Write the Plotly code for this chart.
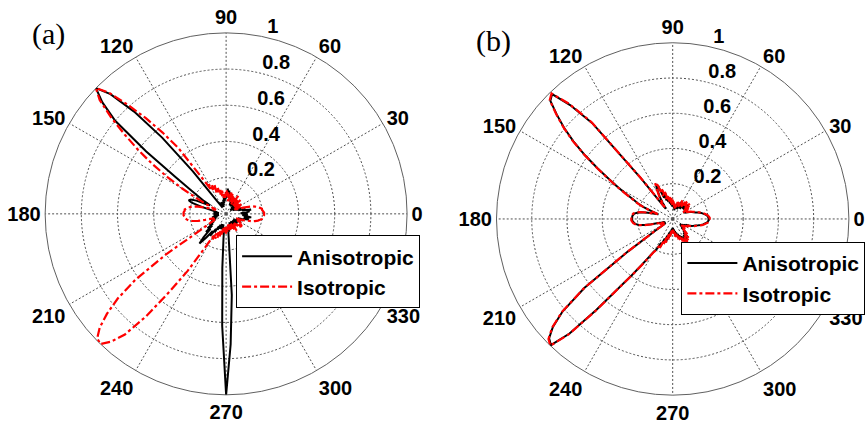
import plotly.graph_objects as go

# Angle grid (degrees) shared by every pattern, 2-degree sampling
theta_deg = list(range(0, 360, 2))

# Normalised far-field patterns, panel (a)
aniso_a = [
    0.10, 0.08, 0.11, 0.13, 0.12, 0.14, 0.09, 0.11, 0.07, 0.09,   # 0-18
    0.06, 0.08, 0.05, 0.07, 0.04, 0.06, 0.05, 0.08, 0.04, 0.06,   # 20-38
    0.03, 0.05, 0.07, 0.04, 0.06, 0.05, 0.08, 0.06, 0.09, 0.05,   # 40-58
    0.07, 0.10, 0.06, 0.08, 0.05, 0.09, 0.07, 0.11, 0.08, 0.12,   # 60-78
    0.09, 0.13, 0.10, 0.14, 0.09, 0.12, 0.08, 0.11, 0.07, 0.10,   # 80-98
    0.06, 0.08, 0.05, 0.07, 0.04, 0.06, 0.05, 0.07, 0.05, 0.06,   # 100-118
    0.04, 0.05, 0.07, 0.10, 0.30, 0.55, 0.76, 0.92, 1.00, 0.92,   # 120-138
    0.80, 0.56, 0.35, 0.24, 0.18, 0.14, 0.10, 0.12, 0.18, 0.21,   # 140-158
    0.22, 0.20, 0.14, 0.08, 0.06, 0.05, 0.07, 0.04, 0.06, 0.05,   # 160-178
    0.07, 0.04, 0.06, 0.05, 0.07, 0.04, 0.06, 0.08, 0.05, 0.07,   # 180-198
    0.06, 0.09, 0.06, 0.08, 0.07, 0.10, 0.08, 0.11, 0.09, 0.13,   # 200-218
    0.10, 0.15, 0.12, 0.18, 0.22, 0.17, 0.12, 0.15, 0.10, 0.12,   # 220-238
    0.08, 0.10, 0.07, 0.09, 0.06, 0.08, 0.07, 0.09, 0.06, 0.08,   # 240-258
    0.10, 0.08, 0.14, 0.30, 0.62, 1.00, 0.72, 0.45, 0.14, 0.08,   # 260-278
    0.10, 0.07, 0.09, 0.06, 0.08, 0.05, 0.07, 0.06, 0.08, 0.05,   # 280-298
    0.07, 0.06, 0.08, 0.05, 0.07, 0.06, 0.08, 0.05, 0.07, 0.06,   # 300-318
    0.08, 0.05, 0.07, 0.06, 0.08, 0.07, 0.09, 0.06, 0.08, 0.10,   # 320-338
    0.07, 0.09, 0.11, 0.13, 0.10, 0.12, 0.14, 0.11, 0.09, 0.12,   # 340-358
]
iso_a = [
    0.21, 0.21, 0.205, 0.20, 0.20, 0.19, 0.18, 0.165, 0.15, 0.12,  # 0-18
    0.10, 0.08, 0.06, 0.09, 0.05, 0.07, 0.10, 0.06, 0.08, 0.05,    # 20-38
    0.09, 0.06, 0.11, 0.07, 0.09, 0.06, 0.10, 0.08, 0.12, 0.07,    # 40-58
    0.09, 0.06, 0.10, 0.08, 0.11, 0.07, 0.12, 0.09, 0.13, 0.08,    # 60-78
    0.11, 0.07, 0.12, 0.09, 0.13, 0.10, 0.12, 0.08, 0.11, 0.09,    # 80-98
    0.13, 0.10, 0.14, 0.11, 0.15, 0.12, 0.17, 0.13, 0.18, 0.15,    # 100-118
    0.19, 0.16, 0.25, 0.45, 0.57, 0.69, 0.81, 0.93, 1.00, 0.94,    # 120-138
    0.83, 0.71, 0.60, 0.49, 0.38, 0.28, 0.19, 0.12, 0.08, 0.06,    # 140-158
    0.07, 0.10, 0.13, 0.17, 0.19, 0.21, 0.22, 0.23, 0.23, 0.235,   # 160-178
    0.235, 0.235, 0.23, 0.23, 0.22, 0.21, 0.19, 0.16, 0.12, 0.09,  # 180-198
    0.07, 0.08, 0.06, 0.09, 0.07, 0.10, 0.15, 0.40, 0.62, 0.76,    # 200-218
    0.86, 0.94, 0.99, 1.00, 0.95, 0.87, 0.72, 0.53, 0.38, 0.22,    # 220-238
    0.14, 0.16, 0.12, 0.15, 0.11, 0.14, 0.10, 0.13, 0.09, 0.12,    # 240-258
    0.08, 0.11, 0.07, 0.10, 0.08, 0.11, 0.07, 0.10, 0.08, 0.09,    # 260-278
    0.06, 0.09, 0.07, 0.10, 0.06, 0.08, 0.07, 0.09, 0.06, 0.10,    # 280-298
    0.08, 0.11, 0.07, 0.09, 0.06, 0.08, 0.07, 0.10, 0.08, 0.11,    # 300-318
    0.09, 0.12, 0.10, 0.11, 0.09, 0.07, 0.10, 0.08, 0.06, 0.08,    # 320-338
    0.10, 0.12, 0.15, 0.165, 0.18, 0.19, 0.20, 0.20, 0.205, 0.21,  # 340-358
]

# Normalised far-field patterns, panel (b)
aniso_b = [
    0.205, 0.205, 0.20, 0.195, 0.185, 0.175, 0.165, 0.15, 0.135, 0.125,  # 0-18
    0.115, 0.105, 0.095, 0.085, 0.075, 0.09, 0.07, 0.10, 0.08, 0.11,     # 20-38
    0.08, 0.12, 0.09, 0.11, 0.08, 0.12, 0.09, 0.11, 0.07, 0.10,          # 40-58
    0.08, 0.11, 0.07, 0.09, 0.06, 0.10, 0.07, 0.09, 0.06, 0.08,          # 60-78
    0.05, 0.08, 0.06, 0.09, 0.07, 0.10, 0.07, 0.11, 0.08, 0.12,          # 80-98
    0.09, 0.13, 0.10, 0.15, 0.11, 0.17, 0.13, 0.20, 0.22, 0.18,          # 100-118
    0.15, 0.11, 0.07, 0.11, 0.29, 0.71, 0.87, 0.985, 0.965, 0.885,       # 120-138
    0.805, 0.715, 0.615, 0.515, 0.425, 0.355, 0.295, 0.245, 0.215, 0.175, # 140-158
    0.125, 0.085, 0.105, 0.145, 0.185, 0.205, 0.22, 0.225, 0.23, 0.23,   # 160-178
    0.23, 0.23, 0.225, 0.22, 0.21, 0.195, 0.165, 0.125, 0.085, 0.065,    # 180-198
    0.05, 0.07, 0.045, 0.06, 0.045, 0.055, 0.055, 0.115, 0.315, 0.635,   # 200-218
    0.815, 0.915, 0.975, 0.995, 0.875, 0.675, 0.495, 0.395, 0.315, 0.255, # 220-238
    0.215, 0.195, 0.15, 0.17, 0.12, 0.15, 0.10, 0.13, 0.08, 0.11,        # 240-258
    0.07, 0.09, 0.06, 0.08, 0.05, 0.07, 0.05, 0.08, 0.06, 0.09,          # 260-278
    0.07, 0.10, 0.08, 0.11, 0.09, 0.12, 0.10, 0.13, 0.11, 0.14,          # 280-298
    0.12, 0.15, 0.11, 0.14, 0.10, 0.13, 0.09, 0.11, 0.07, 0.09,          # 300-318
    0.06, 0.08, 0.05, 0.07, 0.06, 0.08, 0.07, 0.09, 0.08, 0.10,          # 320-338
    0.115, 0.125, 0.135, 0.15, 0.165, 0.175, 0.185, 0.195, 0.20, 0.205,  # 340-358
]
iso_b = [
    0.21, 0.21, 0.205, 0.20, 0.19, 0.18, 0.17, 0.155, 0.14, 0.13,   # 0-18
    0.12, 0.11, 0.10, 0.09, 0.08, 0.10, 0.07, 0.11, 0.08, 0.12,     # 20-38
    0.09, 0.13, 0.10, 0.12, 0.09, 0.13, 0.10, 0.12, 0.08, 0.11,     # 40-58
    0.09, 0.12, 0.08, 0.10, 0.07, 0.11, 0.08, 0.10, 0.07, 0.09,     # 60-78
    0.06, 0.09, 0.07, 0.10, 0.08, 0.11, 0.08, 0.12, 0.09, 0.13,     # 80-98
    0.10, 0.14, 0.11, 0.16, 0.12, 0.18, 0.14, 0.21, 0.23, 0.19,     # 100-118
    0.16, 0.12, 0.08, 0.12, 0.30, 0.72, 0.88, 0.99, 0.97, 0.89,     # 120-138
    0.81, 0.72, 0.62, 0.52, 0.43, 0.36, 0.30, 0.25, 0.22, 0.18,     # 140-158
    0.13, 0.09, 0.11, 0.15, 0.19, 0.21, 0.225, 0.23, 0.235, 0.235,  # 160-178
    0.235, 0.235, 0.23, 0.225, 0.215, 0.20, 0.17, 0.13, 0.09, 0.07, # 180-198
    0.06, 0.08, 0.05, 0.07, 0.05, 0.06, 0.06, 0.12, 0.32, 0.64,     # 200-218
    0.82, 0.92, 0.98, 1.00, 0.88, 0.68, 0.50, 0.40, 0.32, 0.26,     # 220-238
    0.22, 0.20, 0.16, 0.18, 0.13, 0.16, 0.11, 0.14, 0.09, 0.12,     # 240-258
    0.08, 0.10, 0.07, 0.09, 0.06, 0.08, 0.06, 0.09, 0.07, 0.10,     # 260-278
    0.08, 0.11, 0.09, 0.12, 0.10, 0.13, 0.11, 0.14, 0.12, 0.15,     # 280-298
    0.13, 0.16, 0.12, 0.15, 0.11, 0.14, 0.10, 0.12, 0.08, 0.10,     # 300-318
    0.07, 0.09, 0.06, 0.08, 0.07, 0.09, 0.08, 0.10, 0.09, 0.11,     # 320-338
    0.12, 0.13, 0.14, 0.155, 0.17, 0.18, 0.19, 0.20, 0.205, 0.21,   # 340-358
]

series_names = ["Anisotropic", "Isotropic"]
radial_ticks = [0.2, 0.4, 0.6, 0.8, 1.0]
radial_labels = ["0.2", "0.4", "0.6", "0.8", "1"]
angle_ticks = list(range(0, 360, 30))
panel_labels = ["(a)", "(b)"]


def closed(values):
    return values + values[:1]


theta_closed = closed(theta_deg)

fig = go.Figure()

styles = [
    dict(color="black", width=2, dash="solid"),
    dict(color="#ff0000", width=2.2, dash="dashdot"),
]

for subplot, legend_id, pair in [
    ("polar", "legend", (aniso_a, iso_a)),
    ("polar2", "legend2", (aniso_b, iso_b)),
]:
    for name, values, line in zip(series_names, pair, styles):
        fig.add_trace(go.Scatterpolar(
            theta=theta_closed,
            r=closed(values),
            mode="lines",
            name=name,
            line=line,
            subplot=subplot,
            legend=legend_id,
            hoverinfo="skip",
        ))

tick_font = dict(family="Liberation Sans, Arial, sans-serif", size=20,
                 color="black", weight="bold")
grid_color = "#505050"


def polar_layout(x_dom, y_dom):
    return dict(
        domain=dict(x=x_dom, y=y_dom),
        bgcolor="white",
        radialaxis=dict(
            range=[0, 1],
            tickvals=radial_ticks,
            # an empty second line lifts each label above its circle
            ticktext=[" " + t + "<br> " for t in radial_labels],
            showline=False,
            ticks="",
            angle=82,
            tickangle=82,
            side="clockwise",
            tickfont=tick_font,
            gridcolor=grid_color,
            griddash="2px,2px",
            gridwidth=1,
            layer="below traces",
        ),
        angularaxis=dict(
            direction="counterclockwise",
            rotation=0,
            tickvals=angle_ticks,
            ticktext=[str(a) for a in angle_ticks],
            ticks="",
            tickfont=tick_font,
            showline=True,
            linecolor="#606060",
            linewidth=1,
            gridcolor=grid_color,
            griddash="2px,2px",
            gridwidth=1,
            layer="below traces",
        ),
    )


legend_style = dict(
    bgcolor="white",
    bordercolor="black",
    borderwidth=1,
    font=dict(family="Liberation Sans, Arial, sans-serif", size=21,
              color="black", weight="bold"),
    xanchor="left",
    yanchor="top",
    tracegroupgap=0,
    itemwidth=50,
)

fig.update_layout(
    width=868,
    height=426,
    autosize=False,
    margin=dict(l=0, r=0, t=0, b=0),
    paper_bgcolor="white",
    polar=polar_layout([0.052, 0.469], [0.073, 0.923]),
    polar2=polar_layout([0.572, 0.978], [0.072, 0.900]),
    legend=dict(x=0.272, y=0.448, **legend_style),
    legend2=dict(x=0.785, y=0.432, **legend_style),
    showlegend=True,
)

for label, (px, py) in zip(panel_labels, [(0.056, 0.92), (0.569, 0.904)]):
    fig.add_annotation(
        text=label, xref="paper", yref="paper", x=px, y=py,
        xanchor="center", yanchor="middle", showarrow=False,
        font=dict(family="Liberation Serif, Times New Roman, serif",
                  size=30, color="black"),
    )

fig.write_html("out.html")
